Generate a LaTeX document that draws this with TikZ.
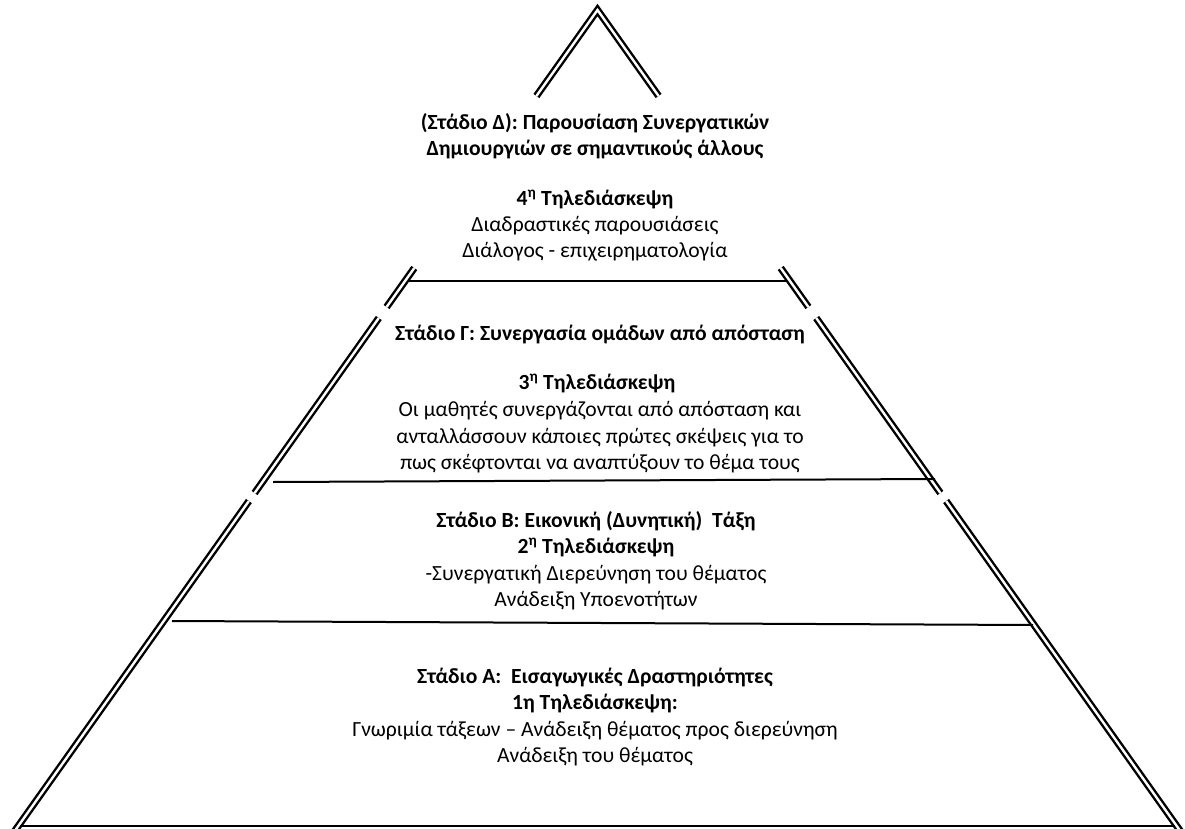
\documentclass[tikz,border=0pt]{standalone}
\usepackage{fontspec}
\setmainfont{Carlito}
\begin{document}
\begin{tikzpicture}[x=1pt,y=-1pt,
  side/.style={draw=black, line width=2.4pt, double=white, double distance=2.4pt, line join=miter, line cap=butt},
  hline/.style={draw=black, line width=2pt},
  txt/.style={anchor=base, inner sep=0pt, font=\fontsize{21.6}{26}\selectfont},
  btxt/.style={txt, font=\fontsize{21.6}{26}\selectfont\bfseries}]
\useasboundingbox (0,0) rectangle (1185,829);
\clip (0,0) rectangle (1185,829);
% sides of the pyramid
\draw[side] (536.4,96) -- (597.5,10) -- (658.6,96);
\draw[side] (414.3,268) -- (386.6,307);
\draw[side] (780.7,268) -- (808.4,307);
\draw[side] (378.8,318) -- (254.6,493);
\draw[side] (816.2,318) -- (940.4,493);
\draw[side] (248.9,501) -- (14,832);
\draw[side] (946.1,501) -- (1181,832);
% horizontal dividers
\draw[hline] (409,281) -- (786,281);
\draw[hline] (273,482) -- (935,479);
\draw[hline] (172,621) -- (1033,625);
\draw[hline] (20,826) -- (1175,826);
% stage D
\node[btxt] (d1) at (595,130) {(Στάδιο Δ): Παρουσίαση Συνεργατικών};
\node[btxt] (d2) at (595,156) {Δημιουργιών σε σημαντικούς άλλους};
\node[btxt] (d3) at (595,205) {4\textsuperscript{η} Τηλεδιάσκεψη};
\node[txt] (d4) at (595,231) {Διαδραστικές παρουσιάσεις};
\node[txt] (d5) at (595,257) {Διάλογος - επιχειρηματολογία};
% stage G
\node[btxt] (g1) at (600,340) {Στάδιο Γ: Συνεργασία ομάδων από απόσταση};
\node[btxt] (g2) at (597,389) {3\textsuperscript{η} Τηλεδιάσκεψη};
\node[txt] (g3) at (600,416) {Οι μαθητές συνεργάζονται από απόσταση και};
\node[txt] (g4) at (600,443) {ανταλλάσσουν κάποιες πρώτες σκέψεις για το};
\node[txt] (g5) at (600,469) {πως σκέφτονται να αναπτύξουν το θέμα τους};
% stage B
\node[btxt] (b1) at (596,527) {Στάδιο Β: Εικονική (Δυνητική)\ \ Τάξη};
\node[btxt] (b2) at (596,553) {2\textsuperscript{η} Τηλεδιάσκεψη};
\node[txt] (b3) at (596,580) {-Συνεργατική Διερεύνηση του θέματος};
\node[txt] (b4) at (596,606) {Ανάδειξη Υποενοτήτων};
% stage A
\node[btxt] (a1) at (595,683) {Στάδιο Α:\ \ Εισαγωγικές Δραστηριότητες};
\node[btxt] (a2) at (595,709) {1η Τηλεδιάσκεψη:};
\node[txt] (a3) at (595,736) {Γνωριμία τάξεων – Ανάδειξη θέματος προς διερεύνηση};
\node[txt] (a4) at (595,762) {Ανάδειξη του θέματος};
\end{tikzpicture}
\end{document}
